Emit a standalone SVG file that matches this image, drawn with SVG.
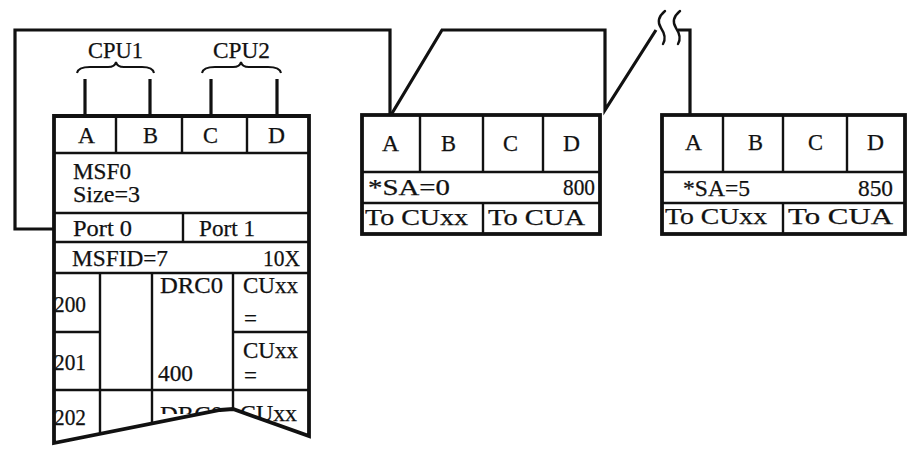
<svg xmlns="http://www.w3.org/2000/svg" width="912" height="449" viewBox="0 0 912 449">
  <style>
    text { font-family: "Liberation Serif", "Times New Roman", serif; font-size: 23px; fill: #111; stroke: #111; stroke-width: 0.25; }
    .frame { fill: none; stroke: #111; stroke-width: 3.8; stroke-linejoin: miter; }
    .cell { fill: none; stroke: #111; stroke-width: 2.4; }
    .wire { fill: none; stroke: #111; stroke-width: 3.2; stroke-linejoin: miter; }
    .brace { fill: none; stroke: #111; stroke-width: 2; }
    .squig { fill: none; stroke: #111; stroke-width: 2.4; stroke-linecap: round; }
  </style>
  <defs>
    <!-- outline of the MSF table, torn off at the bottom -->
    <clipPath id="msfClip">
      <polygon points="54,116 309,116 309,436 233,409 220,410 54,443"/>
    </clipPath>
    <clipPath id="tornText">
      <rect x="150" y="395" width="80" height="19"/>
    </clipPath>
  </defs>
  <rect width="912" height="449" fill="#fff"/>

  <!-- CPU labels with braces -->
  <g id="cpu1">
    <text x="88" y="58" textLength="55" lengthAdjust="spacingAndGlyphs">CPU1</text>
    <path class="brace" d="M77,73 Q78,67 90,67 L108,67 Q115,67 116,62 Q117,67 124,67 L142,67 Q153,67 154,73"/>
  </g>
  <g id="cpu2">
    <text x="213" y="58" textLength="57" lengthAdjust="spacingAndGlyphs">CPU2</text>
    <path class="brace" d="M202,73 Q203,67 215,67 L233,67 Q240,67 241,62 Q242,67 249,67 L268,67 Q280,67 281,73"/>
  </g>

  <!-- MSF table -->
  <g id="msf0">
    <g clip-path="url(#msfClip)">
      <!-- row dividers -->
      <line class="cell" x1="54" y1="153" x2="309" y2="153"/>
      <line class="cell" x1="54" y1="213" x2="309" y2="213"/>
      <line class="cell" x1="54" y1="242" x2="309" y2="242"/>
      <line class="cell" x1="54" y1="273" x2="309" y2="273"/>
      <line class="cell" x1="54" y1="332" x2="100" y2="332"/>
      <line class="cell" x1="233" y1="332" x2="309" y2="332"/>
      <line class="cell" x1="54" y1="390" x2="309" y2="390"/>
      <!-- column dividers -->
      <line class="cell" x1="116" y1="116" x2="116" y2="153"/>
      <line class="cell" x1="182" y1="116" x2="182" y2="153"/>
      <line class="cell" x1="247" y1="116" x2="247" y2="153"/>
      <line class="cell" x1="183" y1="213" x2="183" y2="242"/>
      <line class="cell" x1="100" y1="273" x2="100" y2="449"/>
      <line class="cell" x1="152" y1="273" x2="152" y2="449"/>
      <line class="cell" x1="233" y1="273" x2="233" y2="449"/>

      <text x="78" y="143" textLength="17" lengthAdjust="spacingAndGlyphs">A</text>
      <text x="143" y="143" textLength="15" lengthAdjust="spacingAndGlyphs">B</text>
      <text x="203" y="143" textLength="15" lengthAdjust="spacingAndGlyphs">C</text>
      <text x="268" y="143" textLength="17" lengthAdjust="spacingAndGlyphs">D</text>
      <text x="73" y="179" textLength="58" lengthAdjust="spacingAndGlyphs">MSF0</text>
      <text x="73" y="202" textLength="67" lengthAdjust="spacingAndGlyphs">Size=3</text>
      <text x="73" y="236" textLength="59" lengthAdjust="spacingAndGlyphs">Port 0</text>
      <text x="199" y="236" textLength="56" lengthAdjust="spacingAndGlyphs">Port 1</text>
      <text x="72" y="266" textLength="96" lengthAdjust="spacingAndGlyphs">MSFID=7</text>
      <text x="263" y="266" textLength="37" lengthAdjust="spacingAndGlyphs">10X</text>
      <text x="54" y="312" textLength="32" lengthAdjust="spacingAndGlyphs">200</text>
      <text x="54" y="370" textLength="32" lengthAdjust="spacingAndGlyphs">201</text>
      <text x="54" y="425" textLength="32" lengthAdjust="spacingAndGlyphs">202</text>
      <text x="160" y="293" textLength="63" lengthAdjust="spacingAndGlyphs">DRC0</text>
      <text x="158" y="381" textLength="35" lengthAdjust="spacingAndGlyphs">400</text>
      <text x="243" y="293" textLength="55" lengthAdjust="spacingAndGlyphs">CUxx</text>
      <text x="244" y="326" font-size="18">=</text>
      <text x="243" y="358" textLength="55" lengthAdjust="spacingAndGlyphs">CUxx</text>
      <text x="244" y="383" font-size="18">=</text>
      <text x="160" y="422" textLength="63" lengthAdjust="spacingAndGlyphs" clip-path="url(#tornText)">DRC0</text>
      <text x="240" y="421" textLength="57" lengthAdjust="spacingAndGlyphs">CUxx</text>
    </g>
    <polygon class="frame" points="54,116 309,116 309,436 233,409 220,410 54,443"/>
  </g>

  <!-- control unit, SA 0 -->
  <g id="cu-sa0">
    <line class="cell" x1="362" y1="172" x2="600" y2="172"/>
    <line class="cell" x1="362" y1="203" x2="600" y2="203"/>
    <line class="cell" x1="420" y1="115" x2="420" y2="172"/>
    <line class="cell" x1="483" y1="115" x2="483" y2="172"/>
    <line class="cell" x1="543" y1="115" x2="543" y2="172"/>
    <line class="cell" x1="483" y1="203" x2="483" y2="234"/>
    <rect class="frame" x="362" y="115" width="238" height="119"/>
    <text x="382" y="151" textLength="17" lengthAdjust="spacingAndGlyphs">A</text>
    <text x="441" y="151" textLength="15" lengthAdjust="spacingAndGlyphs">B</text>
    <text x="503" y="151" textLength="15" lengthAdjust="spacingAndGlyphs">C</text>
    <text x="563" y="151" textLength="17" lengthAdjust="spacingAndGlyphs">D</text>
    <text x="368" y="195" textLength="82" lengthAdjust="spacingAndGlyphs">*SA=0</text>
    <text x="563" y="195" textLength="32" lengthAdjust="spacingAndGlyphs">800</text>
    <text x="365" y="225" textLength="103" lengthAdjust="spacingAndGlyphs">To CUxx</text>
    <text x="488" y="225" textLength="97" lengthAdjust="spacingAndGlyphs">To CUA</text>
  </g>

  <!-- control unit, SA 5 -->
  <g id="cu-sa5">
    <line class="cell" x1="662" y1="172" x2="905" y2="172"/>
    <line class="cell" x1="662" y1="203" x2="905" y2="203"/>
    <line class="cell" x1="723" y1="115" x2="723" y2="172"/>
    <line class="cell" x1="783" y1="115" x2="783" y2="172"/>
    <line class="cell" x1="847" y1="115" x2="847" y2="172"/>
    <line class="cell" x1="783" y1="203" x2="783" y2="234"/>
    <rect class="frame" x="662" y="115" width="243" height="119"/>
    <text x="685" y="150" textLength="17" lengthAdjust="spacingAndGlyphs">A</text>
    <text x="748" y="150" textLength="15" lengthAdjust="spacingAndGlyphs">B</text>
    <text x="808" y="150" textLength="15" lengthAdjust="spacingAndGlyphs">C</text>
    <text x="867" y="150" textLength="17" lengthAdjust="spacingAndGlyphs">D</text>
    <text x="683" y="196" textLength="67" lengthAdjust="spacingAndGlyphs">*SA=5</text>
    <text x="858" y="196" textLength="35" lengthAdjust="spacingAndGlyphs">850</text>
    <text x="665" y="224" textLength="102" lengthAdjust="spacingAndGlyphs">To CUxx</text>
    <text x="788" y="224" textLength="105" lengthAdjust="spacingAndGlyphs">To CUA</text>
  </g>

  <!-- channel paths -->
  <g id="connectors">
    <line class="wire" x1="85" y1="79" x2="85" y2="116"/>
    <line class="wire" x1="150" y1="79" x2="150" y2="116"/>
    <line class="wire" x1="211" y1="79" x2="211" y2="116"/>
    <line class="wire" x1="277" y1="79" x2="277" y2="116"/>
    <path class="wire" d="M54,229 H15 V30 H390 V115"/>
    <path class="wire" d="M391,115 L442,30 H605 V110 L656,30"/>
    <path class="squig" d="M665,11 C659,16 657,22 661,28 C665,34 666,39 663,44"/>
    <path class="squig" d="M680,11 C674,16 672,22 676,28 C680,34 681,39 678,44"/>
    <path class="wire" d="M678,30 H690 V115"/>
  </g>
</svg>
